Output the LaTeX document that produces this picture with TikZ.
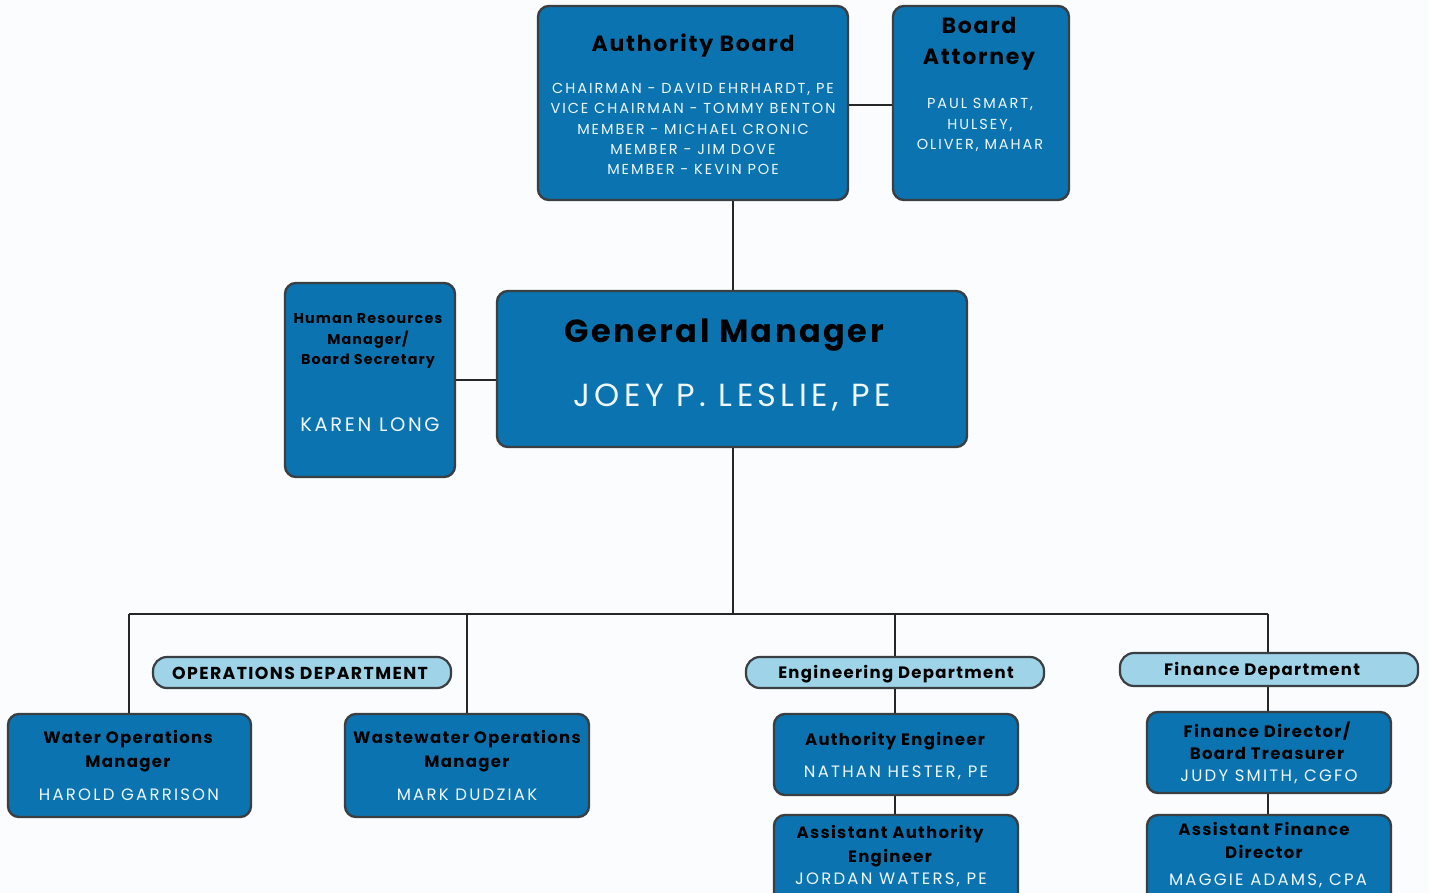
\documentclass[tikz,border=0pt]{standalone}
\usepackage{fontspec}
\setmainfont{Poppins}
\newfontfamily\titlefont{Poppins}[BoldFont={* Bold}, BoldFeatures={LetterSpace=8}]
\newfontfamily\namefont{Poppins}[LetterSpace=13.5]
\definecolor{boxblue}{HTML}{0B74B0}
\definecolor{pillblue}{HTML}{9ED3E8}
\definecolor{edge}{HTML}{3A3F44}
\definecolor{bg}{HTML}{FAFCFD}
\definecolor{namecol}{HTML}{EEF7FC}
\tikzset{
  box/.style={draw=edge, line width=2.4pt, fill=boxblue, rounded corners=11pt, inner sep=0pt},
  pill/.style={draw=edge, line width=2.2pt, fill=pillblue, rounded corners=14pt, inner sep=0pt},
  link/.style={draw=black!85, line width=2pt},
  ttl/.style={text=black, font=\titlefont\bfseries, align=center, inner sep=0pt},
  nm/.style={text=namecol, font=\namefont, align=center, inner sep=0pt},
}
\begin{document}
\begin{tikzpicture}[x=1pt,y=-1pt]
\clip (0,0) rectangle (1429,893);
\fill[bg] (0,0) rectangle (1429,893);
% boxes
\node[box, minimum width=310pt, minimum height=194pt] (ab) at (693,103) {};
\node[box, minimum width=176pt, minimum height=194pt] (ba) at (981,103) {};
\node[box, minimum width=470pt, minimum height=156pt] (gm) at (732,369) {};
\node[box, minimum width=170pt, minimum height=194pt] (hr) at (370,380) {};
\node[pill, minimum width=298pt, minimum height=31pt] (ops) at (302,672.5) {};
\node[pill, minimum width=298pt, minimum height=31pt] (eng) at (895,672.5) {};
\node[pill, minimum width=298pt, minimum height=33pt] (fin) at (1269,669.5) {};
\node[box, minimum width=243pt, minimum height=103pt] (wo) at (129.5,765.5) {};
\node[box, minimum width=244pt, minimum height=103pt] (ww) at (467,765.5) {};
\node[box, minimum width=244pt, minimum height=81pt] (ae) at (896,754.5) {};
\node[box, minimum width=244pt, minimum height=100pt] (aae) at (896,865) {};
\node[box, minimum width=244pt, minimum height=81pt] (fd) at (1269,752.5) {};
\node[box, minimum width=244pt, minimum height=100pt] (afd) at (1269,865) {};
\coordinate (jl) at (129,614);
\coordinate (jr) at (1268,614);
\coordinate (jm) at (733,614);
% connectors
\draw[link] (ab.east |- 0,105) -- (ba.west |- 0,105);
\draw[link] (ab.south -| 733,0) -- (gm.north -| 733,0);
\draw[link] (hr.east |- 0,380) -- (gm.west |- 0,380);
\draw[link] (gm.south -| 733,0) -- (jm);
\draw[link] (jl) -- (jr);
\draw[link] (jl) -- (wo.north -| jl);
\draw[link] (467,614) -- (ww.north);
\draw[link] (895,614) -- (eng.north -| 895,0);
\draw[link] (jr) -- (fin.north -| jr);
\draw[link] (eng.south -| 895,0) -- (ae.north -| 895,0);
\draw[link] (ae.south -| 895,0) -- (aae.north -| 895,0);
\draw[link] (fin.south -| jr) -- (fd.north -| jr);
\draw[link] (fd.south -| jr) -- (afd.north -| jr);
% texts
\node[ttl, font=\titlefont\bfseries\fontsize{22}{25}\selectfont] (abt) at (693,46) {Authority Board};
\node[nm, font=\namefont\fontsize{14.5}{20.3}\selectfont] (abn) at (693,129) {CHAIRMAN - DAVID EHRHARDT, PE\\VICE CHAIRMAN - TOMMY BENTON\\MEMBER - MICHAEL CRONIC\\MEMBER - JIM DOVE\\MEMBER - KEVIN POE};
\node[ttl, font=\titlefont\bfseries\fontsize{22}{31}\selectfont] (bat) at (979,44) {Board\\Attorney};
\node[nm, font=\namefont\fontsize{14.5}{20.3}\selectfont] (ban) at (980,125) {PAUL SMART,\\HULSEY,\\OLIVER, MAHAR};
\node[ttl, font=\titlefont\bfseries\fontsize{32}{36}\selectfont, anchor=base] (gmt) at (724,342) {General Manager};
\node[nm, font=\namefont\fontsize{32}{36}\selectfont, anchor=base] (gmn) at (732,406) {JOEY P. LESLIE, PE};
\node[ttl, font=\titlefont\bfseries\fontsize{14.3}{20.3}\selectfont] (hrt) at (368,341) {Human Resources\\Manager/\\Board Secretary};
\node[nm, font=\namefont\fontsize{19.5}{22}\selectfont] (hrn) at (370,425) {KAREN LONG};
\node[ttl, font=\titlefont\bfseries\fontsize{17.3}{20}\selectfont] (opst) at (300,673) {OPERATIONS DEPARTMENT};
\node[ttl, font=\titlefont\bfseries\fontsize{16.5}{20}\selectfont] (engt) at (896,674) {Engineering Department};
\node[ttl, font=\titlefont\bfseries\fontsize{16.5}{20}\selectfont] (fint) at (1262,671) {Finance Department};
\node[ttl, font=\titlefont\bfseries\fontsize{16.5}{23.5}\selectfont] (wot) at (128,751) {Water Operations\\Manager};
\node[nm, font=\namefont\fontsize{16.5}{20}\selectfont] (won) at (129,795) {HAROLD GARRISON};
\node[ttl, font=\titlefont\bfseries\fontsize{16.5}{23.5}\selectfont] (wwt) at (467,751) {Wastewater Operations\\Manager};
\node[nm, font=\namefont\fontsize{16.5}{20}\selectfont] (wwn) at (467,795) {MARK DUDZIAK};
\node[ttl, font=\titlefont\bfseries\fontsize{16.5}{20}\selectfont] (aet) at (895,741) {Authority Engineer};
\node[nm, font=\namefont\fontsize{16.5}{20}\selectfont] (aen) at (896,773) {NATHAN HESTER, PE};
\node[ttl, font=\titlefont\bfseries\fontsize{16.5}{23.5}\selectfont] (aaet) at (890,846) {Assistant Authority\\Engineer};
\node[nm, font=\namefont\fontsize{16.5}{20}\selectfont] (aaen) at (891,880) {JORDAN WATERS, PE};
\node[ttl, font=\titlefont\bfseries\fontsize{16.5}{22.5}\selectfont] (fdt) at (1267,740.5) {Finance Director/\\Board Treasurer};
\node[nm, font=\namefont\fontsize{16.5}{20}\selectfont] (fdn) at (1269,777) {JUDY SMITH, CGFO};
\node[ttl, font=\titlefont\bfseries\fontsize{16.5}{23}\selectfont] (afdt) at (1264,840) {Assistant Finance\\Director};
\node[nm, font=\namefont\fontsize{16.5}{20}\selectfont] (afdn) at (1268,881) {MAGGIE ADAMS, CPA};
\end{tikzpicture}
\end{document}
